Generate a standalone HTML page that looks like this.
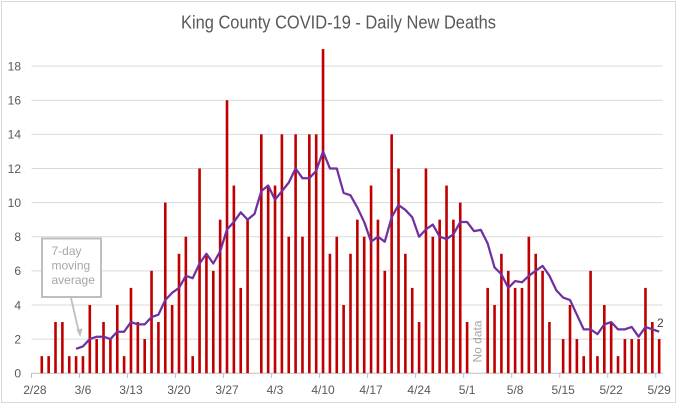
<!DOCTYPE html>
<html><head><meta charset="utf-8"><style>
html,body{margin:0;padding:0;background:#fff;}
svg{display:block;}
text{font-family:"Liberation Sans",Arial,sans-serif;}
</style></head><body>
<svg width="678" height="405" viewBox="0 0 678 405" xmlns="http://www.w3.org/2000/svg">
<rect x="0" y="0" width="678" height="405" fill="#fff"/>
<rect x="1.5" y="1.5" width="674" height="401" fill="none" stroke="#d9d9d9" stroke-width="1"/>
<text x="338.5" y="28.3" font-size="18.5" fill="#595959" text-anchor="middle" textLength="315" lengthAdjust="spacingAndGlyphs">King County COVID-19 - Daily New Deaths</text>
<g stroke="#d9d9d9" stroke-width="1">
<line x1="31.5" x2="662.6" y1="339.08" y2="339.08"/>
<line x1="31.5" x2="662.6" y1="304.96" y2="304.96"/>
<line x1="31.5" x2="662.6" y1="270.84" y2="270.84"/>
<line x1="31.5" x2="662.6" y1="236.72" y2="236.72"/>
<line x1="31.5" x2="662.6" y1="202.6" y2="202.6"/>
<line x1="31.5" x2="662.6" y1="168.48" y2="168.48"/>
<line x1="31.5" x2="662.6" y1="134.36" y2="134.36"/>
<line x1="31.5" x2="662.6" y1="100.24" y2="100.24"/>
<line x1="31.5" x2="662.6" y1="66.12" y2="66.12"/>
</g>
<g stroke="#bfbfbf" stroke-width="1">
<line x1="31.5" x2="662.6" y1="373.2" y2="373.2"/>
<line x1="31.5" x2="31.5" y1="373.2" y2="378"/>
<line x1="79.52" x2="79.52" y1="373.2" y2="378"/>
<line x1="127.54" x2="127.54" y1="373.2" y2="378"/>
<line x1="175.56" x2="175.56" y1="373.2" y2="378"/>
<line x1="223.58" x2="223.58" y1="373.2" y2="378"/>
<line x1="271.6" x2="271.6" y1="373.2" y2="378"/>
<line x1="319.62" x2="319.62" y1="373.2" y2="378"/>
<line x1="367.64" x2="367.64" y1="373.2" y2="378"/>
<line x1="415.66" x2="415.66" y1="373.2" y2="378"/>
<line x1="463.68" x2="463.68" y1="373.2" y2="378"/>
<line x1="511.7" x2="511.7" y1="373.2" y2="378"/>
<line x1="559.72" x2="559.72" y1="373.2" y2="378"/>
<line x1="607.74" x2="607.74" y1="373.2" y2="378"/>
<line x1="655.76" x2="655.76" y1="373.2" y2="378"/>
</g>
<g font-size="12" fill="#595959" text-anchor="end">
<text x="21" y="377.5">0</text>
<text x="21" y="343.4">2</text>
<text x="21" y="309.3">4</text>
<text x="21" y="275.1">6</text>
<text x="21" y="241">8</text>
<text x="21" y="206.9">10</text>
<text x="21" y="172.8">12</text>
<text x="21" y="138.7">14</text>
<text x="21" y="104.5">16</text>
<text x="21" y="70.4">18</text>
</g>
<g font-size="12" fill="#595959" text-anchor="middle">
<text x="34.93" y="394">2/28</text>
<text x="82.95" y="394">3/6</text>
<text x="130.97" y="394">3/13</text>
<text x="178.99" y="394">3/20</text>
<text x="227.01" y="394">3/27</text>
<text x="275.03" y="394">4/3</text>
<text x="323.05" y="394">4/10</text>
<text x="371.07" y="394">4/17</text>
<text x="419.09" y="394">4/24</text>
<text x="467.11" y="394">5/1</text>
<text x="515.13" y="394">5/8</text>
<text x="563.15" y="394">5/15</text>
<text x="611.17" y="394">5/22</text>
<text x="659.19" y="394">5/29</text>
</g>
<g transform="translate(31.5 373.2) scale(6.86 -17.06)" fill="#c00000">
<rect x="1.31" y="0" width="0.38" height="1"/>
<rect x="2.31" y="0" width="0.38" height="1"/>
<rect x="3.31" y="0" width="0.38" height="3"/>
<rect x="4.31" y="0" width="0.38" height="3"/>
<rect x="5.31" y="0" width="0.38" height="1"/>
<rect x="6.31" y="0" width="0.38" height="1"/>
<rect x="7.31" y="0" width="0.38" height="1"/>
<rect x="8.31" y="0" width="0.38" height="4"/>
<rect x="9.31" y="0" width="0.38" height="2"/>
<rect x="10.31" y="0" width="0.38" height="3"/>
<rect x="11.31" y="0" width="0.38" height="2"/>
<rect x="12.31" y="0" width="0.38" height="4"/>
<rect x="13.31" y="0" width="0.38" height="1"/>
<rect x="14.31" y="0" width="0.38" height="5"/>
<rect x="15.31" y="0" width="0.38" height="3"/>
<rect x="16.31" y="0" width="0.38" height="2"/>
<rect x="17.31" y="0" width="0.38" height="6"/>
<rect x="18.31" y="0" width="0.38" height="3"/>
<rect x="19.31" y="0" width="0.38" height="10"/>
<rect x="20.31" y="0" width="0.38" height="4"/>
<rect x="21.31" y="0" width="0.38" height="7"/>
<rect x="22.31" y="0" width="0.38" height="8"/>
<rect x="23.31" y="0" width="0.38" height="1"/>
<rect x="24.31" y="0" width="0.38" height="12"/>
<rect x="25.31" y="0" width="0.38" height="7"/>
<rect x="26.31" y="0" width="0.38" height="6"/>
<rect x="27.31" y="0" width="0.38" height="9"/>
<rect x="28.31" y="0" width="0.38" height="16"/>
<rect x="29.31" y="0" width="0.38" height="11"/>
<rect x="30.31" y="0" width="0.38" height="5"/>
<rect x="31.31" y="0" width="0.38" height="9"/>
<rect x="33.31" y="0" width="0.38" height="14"/>
<rect x="34.31" y="0" width="0.38" height="11"/>
<rect x="35.31" y="0" width="0.38" height="11"/>
<rect x="36.31" y="0" width="0.38" height="14"/>
<rect x="37.31" y="0" width="0.38" height="8"/>
<rect x="38.31" y="0" width="0.38" height="14"/>
<rect x="39.31" y="0" width="0.38" height="8"/>
<rect x="40.31" y="0" width="0.38" height="14"/>
<rect x="41.31" y="0" width="0.38" height="14"/>
<rect x="42.31" y="0" width="0.38" height="19"/>
<rect x="43.31" y="0" width="0.38" height="7"/>
<rect x="44.31" y="0" width="0.38" height="8"/>
<rect x="45.31" y="0" width="0.38" height="4"/>
<rect x="46.31" y="0" width="0.38" height="7"/>
<rect x="47.31" y="0" width="0.38" height="9"/>
<rect x="48.31" y="0" width="0.38" height="8"/>
<rect x="49.31" y="0" width="0.38" height="11"/>
<rect x="50.31" y="0" width="0.38" height="9"/>
<rect x="51.31" y="0" width="0.38" height="6"/>
<rect x="52.31" y="0" width="0.38" height="14"/>
<rect x="53.31" y="0" width="0.38" height="12"/>
<rect x="54.31" y="0" width="0.38" height="7"/>
<rect x="55.31" y="0" width="0.38" height="5"/>
<rect x="56.31" y="0" width="0.38" height="3"/>
<rect x="57.31" y="0" width="0.38" height="12"/>
<rect x="58.31" y="0" width="0.38" height="8"/>
<rect x="59.31" y="0" width="0.38" height="9"/>
<rect x="60.31" y="0" width="0.38" height="11"/>
<rect x="61.31" y="0" width="0.38" height="9"/>
<rect x="62.31" y="0" width="0.38" height="10"/>
<rect x="63.31" y="0" width="0.38" height="3"/>
<rect x="66.31" y="0" width="0.38" height="5"/>
<rect x="67.31" y="0" width="0.38" height="4"/>
<rect x="68.31" y="0" width="0.38" height="7"/>
<rect x="69.31" y="0" width="0.38" height="6"/>
<rect x="70.31" y="0" width="0.38" height="5"/>
<rect x="71.31" y="0" width="0.38" height="5"/>
<rect x="72.31" y="0" width="0.38" height="8"/>
<rect x="73.31" y="0" width="0.38" height="7"/>
<rect x="74.31" y="0" width="0.38" height="6"/>
<rect x="75.31" y="0" width="0.38" height="3"/>
<rect x="77.31" y="0" width="0.38" height="2"/>
<rect x="78.31" y="0" width="0.38" height="4"/>
<rect x="79.31" y="0" width="0.38" height="2"/>
<rect x="80.31" y="0" width="0.38" height="1"/>
<rect x="81.31" y="0" width="0.38" height="6"/>
<rect x="82.31" y="0" width="0.38" height="1"/>
<rect x="83.31" y="0" width="0.38" height="4"/>
<rect x="84.31" y="0" width="0.38" height="3"/>
<rect x="85.31" y="0" width="0.38" height="1"/>
<rect x="86.31" y="0" width="0.38" height="2"/>
<rect x="87.31" y="0" width="0.38" height="2"/>
<rect x="88.31" y="0" width="0.38" height="2"/>
<rect x="89.31" y="0" width="0.38" height="5"/>
<rect x="90.31" y="0" width="0.38" height="3"/>
<rect x="91.31" y="0" width="0.38" height="2"/>
<polyline fill="none" stroke="#7030a0" stroke-width="2.25" stroke-linejoin="round" vector-effect="non-scaling-stroke" points="6.5,1.43 7.5,1.57 8.5,2.00 9.5,2.14 10.5,2.14 11.5,2.00 12.5,2.43 13.5,2.43 14.5,3.00 15.5,2.86 16.5,2.86 17.5,3.29 18.5,3.43 19.5,4.29 20.5,4.71 21.5,5.00 22.5,5.71 23.5,5.57 24.5,6.43 25.5,7.00 26.5,6.43 27.5,7.14 28.5,8.43 29.5,8.86 30.5,9.43 31.5,9.00 32.5,9.33 33.5,10.67 34.5,11.00 35.5,10.17 36.5,10.67 37.5,11.17 38.5,12.00 39.5,11.43 40.5,11.43 41.5,11.86 42.5,13.00 43.5,12.00 44.5,12.00 45.5,10.57 46.5,10.43 47.5,9.71 48.5,8.86 49.5,7.71 50.5,8.00 51.5,7.71 52.5,9.14 53.5,9.86 54.5,9.57 55.5,9.14 56.5,8.00 57.5,8.43 58.5,8.71 59.5,8.00 60.5,7.86 61.5,8.14 62.5,8.86 63.5,8.86 64.5,8.33 65.5,8.40 66.5,7.60 67.5,6.20 68.5,5.80 69.5,5.00 70.5,5.40 71.5,5.33 72.5,5.71 73.5,6.00 74.5,6.29 75.5,5.71 76.5,4.86 77.5,4.43 78.5,4.29 79.5,3.43 80.5,2.57 81.5,2.57 82.5,2.29 83.5,2.86 84.5,3.00 85.5,2.57 86.5,2.57 87.5,2.71 88.5,2.14 89.5,2.71 90.5,2.57 91.5,2.43"/>
</g>
<text x="657" y="327" font-size="12" fill="#404040">2</text>
<text transform="translate(481.5 341.5) rotate(-90)" font-size="12" fill="#a6a6a6" text-anchor="middle">No data</text>
<rect x="42" y="238.5" width="59" height="58.5" fill="#fff" stroke="#bfbfbf" stroke-width="2"/>
<g font-size="12" fill="#a6a6a6">
<text x="51.5" y="255">7-day</text>
<text x="51.5" y="269.5">moving</text>
<text x="51.5" y="284">average</text>
</g>
<line x1="71" y1="298" x2="78.6" y2="331" stroke="#bfbfbf" stroke-width="1.8"/>
<polygon points="76.3,329.5 82.5,328.5 80.2,337" fill="#bfbfbf"/>
</svg>
</body></html>
